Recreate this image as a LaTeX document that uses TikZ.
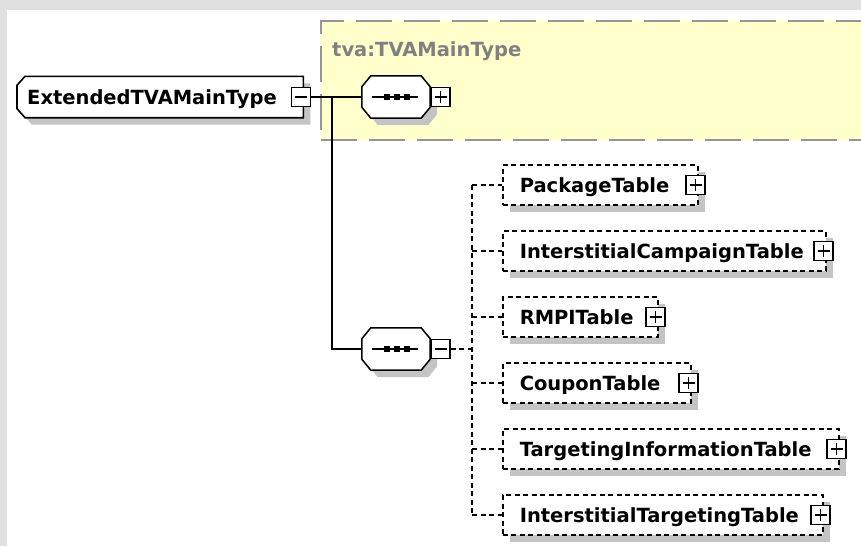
\documentclass[tikz,border=0pt]{standalone}
\usepackage{fontspec}
\setmainfont{DejaVu Sans}
\pgfdeclarelayer{bg}
\pgfsetlayers{bg,main}
\definecolor{bggray}{RGB}{224,224,224}
\definecolor{shgray}{RGB}{196,196,196}
\definecolor{ylw}{RGB}{255,255,204}
\definecolor{ylwborder}{RGB}{150,150,150}
\definecolor{lblgray}{RGB}{128,128,128}
\tikzset{
  shadowed/.style={preaction={fill=shgray, transform canvas={shift={(7pt,-7pt)}}}},
  conn/.style={draw=black, line width=1.6pt},
  dconn/.style={draw=black, line width=1.5pt, dash pattern=on 5pt off 3.5pt},
  pmbox/.style={draw=black, fill=white, line width=1.4pt, minimum width=19pt, minimum height=19pt, inner sep=0pt},
  sign/.style={draw=black, line width=1.4pt},
  childbox/.style={draw=black, fill=white, line width=1.5pt, dash pattern=on 5pt off 3.5pt, shadowed,
     minimum height=40pt, inner xsep=17pt, inner ysep=0pt, align=left, text height=14pt, text depth=0pt, anchor=west},
  elemtext/.style={minimum height=41pt, inner xsep=10pt, inner ysep=0pt, align=left, text height=14pt, text depth=0pt, anchor=west},
  octo/.style={draw=black, fill=white, line width=1.5pt, shadowed},
  seqnode/.style={inner sep=0pt, minimum width=68pt, minimum height=42pt},
  grpbox/.style={fill=ylw, draw=ylwborder, line width=2.2pt, dash pattern=on 36pt off 12pt, inner sep=0pt, anchor=north west},
}
\newcommand\plussign[1]{\draw[sign] ([xshift=-6pt]#1.center) -- ([xshift=6pt]#1.center) ([yshift=-6pt]#1.center) -- ([yshift=6pt]#1.center);}
\newcommand\minussign[1]{\draw[sign] ([xshift=-6pt]#1.center) -- ([xshift=6pt]#1.center);}
\newcommand\octagonpath[1]{%
  \path[octo] ([xshift=9pt]#1.north west) -- ([xshift=-9pt]#1.north east) -- ([yshift=-11pt]#1.north east)
    -- ([yshift=11pt]#1.south east) -- ([xshift=-9pt]#1.south east) -- ([xshift=9pt]#1.south west)
    -- ([yshift=11pt]#1.south west) -- ([yshift=-11pt]#1.north west) -- cycle;}
\newcommand\seqsymbol[1]{%
  \draw[line width=1.5pt] ([xshift=-24pt]#1.center) -- ([xshift=22pt]#1.center);
  \foreach \dx in {-9,1,11} {\fill ([xshift=\dx pt]#1.center) ++(-3,-3) rectangle ++(6,6);}}
\begin{document}
\begin{tikzpicture}[x=1pt,y=-1pt,font=\bfseries\fontsize{19.5}{22}\selectfont]
\useasboundingbox (0,0) rectangle (861,546);
\clip (0,0) rectangle (861,546);
\begin{pgfonlayer}{bg}
\fill[bggray] (0,0) rectangle (861,546);
\fill[white] (7,10) rectangle (861,546);
\end{pgfonlayer}
% group box
\node[grpbox, minimum width=600pt, minimum height=119pt] (grp) at (320,20) {};
\node[anchor=base west, text=lblgray, inner sep=0pt] (grplabel) at (332,56) {tva:TVAMainType};
% main element
\node[elemtext, text width=266pt] (main) at (17,97) {ExtendedTVAMainType};
\begin{pgfonlayer}{bg}
\path[draw=black, fill=white, line width=1.6pt, shadowed]
  ([xshift=8pt]main.north west) -- (main.north east) -- (main.south east)
  -- ([xshift=8pt]main.south west) -- ([yshift=9pt]main.south west) -- ([yshift=-9pt]main.north west) -- cycle;
\end{pgfonlayer}
\node[pmbox] (mmin) at (301,97) {};
\minussign{mmin}
% sequence 1
\node[seqnode] (seq1) at (396,97) {};
\octagonpath{seq1}
\seqsymbol{seq1}
\node[pmbox] (seq1p) at (440.5,97) {};
\plussign{seq1p}
% sequence 2
\node[seqnode] (seq2) at (396,349) {};
\octagonpath{seq2}
\seqsymbol{seq2}
\node[pmbox] (seq2m) at (440.5,349) {};
\minussign{seq2m}
% solid connectors
\coordinate (br) at (332,97);
\draw[conn] (mmin.east) -- (seq1.west);
\draw[conn] (br) |- (seq2.west);
% children
\node[childbox, text width=161pt] (c1) at (502,185) {PackageTable};
\node[childbox, text width=289pt] (c2) at (502,251) {InterstitialCampaignTable};
\node[childbox, text width=121pt] (c3) at (502,317) {RMPITable};
\node[childbox, text width=154pt] (c4) at (502,383) {CouponTable};
\node[childbox, text width=302pt] (c5) at (502,449) {TargetingInformationTable};
\node[childbox, text width=286pt] (c6) at (502,515) {InterstitialTargetingTable};
\foreach \c in {c1,c2,c3,c4,c5,c6} {
  \node[pmbox] (\c p) at ([xshift=-3pt]\c.east) {};
  \plussign{\c p}
}
% dashed connectors
\coordinate (bus) at (472,349);
\draw[dconn] (seq2m.east) -- (bus);
\draw[dconn] (c1.west -| bus) -- (c6.west -| bus);
\foreach \c in {c1,c2,c3,c4,c5,c6} {
  \draw[dconn] (\c.west -| bus) -- (\c.west);
}
\end{tikzpicture}
\end{document}
